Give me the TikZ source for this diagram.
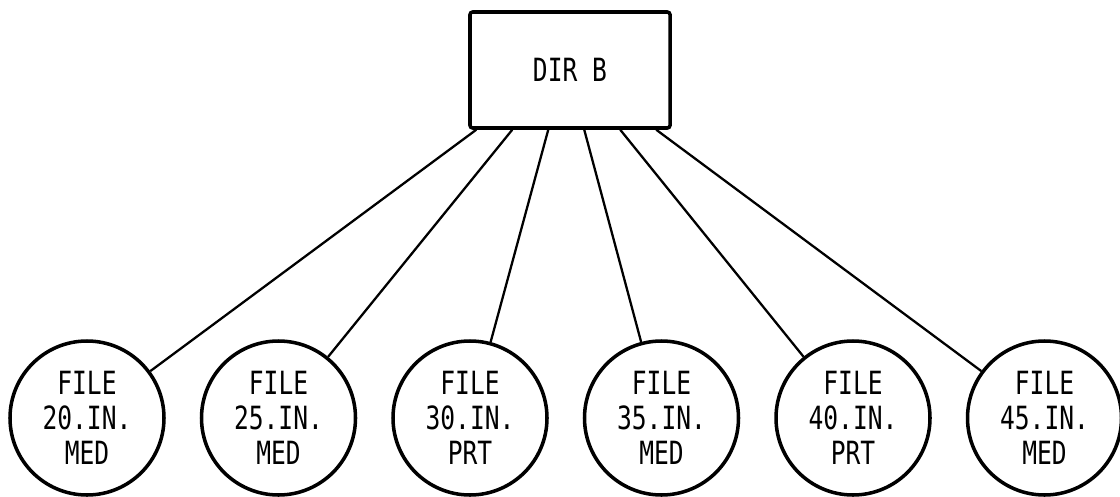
\documentclass[tikz,border=0pt]{standalone}
\usepackage{fontspec}
\setmonofont{DejaVu Sans Mono}
\usetikzlibrary{calc}
\newcommand\tallt[1]{\scalebox{1}[1.3]{#1}}
\tikzset{
  dirbox/.style={draw,line width=2pt,rounded corners=1.5pt,minimum width=4cm,minimum height=2.32cm,
    font=\ttfamily\fontsize{14}{20}\selectfont},
  filenode/.style={circle,draw,line width=2pt,minimum size=3.08cm,inner sep=0pt,align=center,
    font=\ttfamily\fontsize{14}{20}\selectfont},
  link/.style={line width=1.3pt}
}
\begin{document}
\begin{tikzpicture}
\useasboundingbox(0,0)rectangle(22.4,9.92);
%directory
\node[dirbox](dirb)at(11.4,8.52){\tallt{DIR B}};
%files
\node[filenode](f1)at(1.74,1.56){\tallt{FILE}\\\tallt{20.IN.}\\\tallt{MED}};
\node[filenode](f2)at(5.57,1.56){\tallt{FILE}\\\tallt{25.IN.}\\\tallt{MED}};
\node[filenode](f3)at(9.4,1.56){\tallt{FILE}\\\tallt{30.IN.}\\\tallt{PRT}};
\node[filenode](f4)at(13.23,1.56){\tallt{FILE}\\\tallt{35.IN.}\\\tallt{MED}};
\node[filenode](f5)at(17.06,1.56){\tallt{FILE}\\\tallt{40.IN.}\\\tallt{PRT}};
\node[filenode](f6)at(20.89,1.56){\tallt{FILE}\\\tallt{45.IN.}\\\tallt{MED}};
%links
\foreach \i/\x in {1/0.16,2/0.88,3/1.6,4/2.32,5/3.04,6/3.76}{
\coordinate(b\i)at([xshift=\x cm]dirb.south west);
\draw[link](b\i)--(f\i);
}
\end{tikzpicture}
\end{document}
